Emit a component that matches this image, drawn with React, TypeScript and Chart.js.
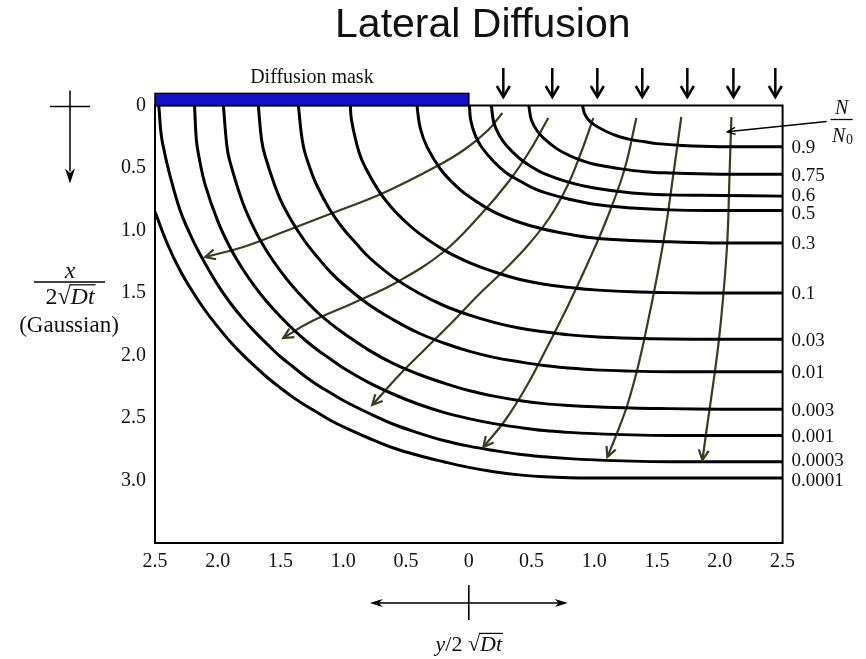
import React, { useEffect, useRef } from 'react';
import { Chart, registerables } from 'chart.js';

Chart.register(...registerables);

type P = [number, number];

// axis ticks (lateral y/2√Dt on x, depth x/2√Dt on y)
const xTicks = [-2.5, -2, -1.5, -1, -0.5, 0, 0.5, 1, 1.5, 2, 2.5];
const yTicks = [0, 0.5, 1, 1.5, 2, 2.5, 3];

// iso-concentration labels N/N0
const concLabels = ['0.9', '0.75', '0.6', '0.5', '0.3', '0.1', '0.03', '0.01', '0.003', '0.001', '0.0003', '0.0001'];

// contour lines: [lateral, depth]
const c0_9: P[] = [[0.906, 0], [0.92, 0.06], [0.95, 0.11], [1.0, 0.155], [1.1, 0.21], [1.2, 0.25], [1.3, 0.275], [1.4, 0.29], [1.5, 0.305], [1.7, 0.32], [2.0, 0.33], [2.5, 0.33]];
const c0_75: P[] = [[0.478, 0], [0.5, 0.12], [0.55, 0.21], [0.6, 0.265], [0.7, 0.345], [0.8, 0.4], [0.9, 0.44], [1.0, 0.47], [1.2, 0.505], [1.4, 0.53], [1.6, 0.54], [2.0, 0.55], [2.5, 0.55]];
const c0_6: P[] = [[0.18, 0], [0.2, 0.14], [0.25, 0.25], [0.3, 0.32], [0.4, 0.42], [0.5, 0.49], [0.6, 0.545], [0.8, 0.615], [1.0, 0.66], [1.3, 0.7], [1.6, 0.715], [2.0, 0.72], [2.5, 0.725]];
const c0_5: P[] = [[0.005, 0], [0.015, 0.116], [0.05, 0.235], [0.1, 0.33], [0.2, 0.45], [0.3, 0.54], [0.4, 0.6], [0.5, 0.655], [0.6, 0.695], [0.8, 0.75], [1.0, 0.79], [1.3, 0.82], [1.6, 0.835], [2.0, 0.84], [2.5, 0.84]];
const c0_3: P[] = [[-0.413, 0], [-0.387, 0.18], [-0.331, 0.335], [-0.225, 0.51], [-0.121, 0.625], [-0.017, 0.715], [0.187, 0.845], [0.39, 0.93], [0.6, 0.99], [0.8, 1.03], [1.0, 1.06], [1.3, 1.08], [1.6, 1.09], [2.0, 1.1], [2.5, 1.1]];
const c0_1: P[] = [[-0.944, 0], [-0.934, 0.12], [-0.876, 0.37], [-0.822, 0.5], [-0.716, 0.685], [-0.612, 0.82], [-0.509, 0.925], [-0.406, 1.015], [-0.2, 1.155], [0, 1.255], [0.2, 1.33], [0.4, 1.39], [0.6, 1.43], [0.8, 1.455], [1.0, 1.475], [1.3, 1.49], [1.6, 1.497], [2.0, 1.5], [2.5, 1.5]];
const c0_03: P[] = [[-1.358, 0], [-1.321, 0.31], [-1.266, 0.5], [-1.213, 0.634], [-1.109, 0.83], [-1.005, 0.98], [-0.9, 1.1], [-0.8, 1.21], [-0.6, 1.375], [-0.4, 1.5], [-0.2, 1.6], [0, 1.675], [0.2, 1.735], [0.4, 1.78], [0.6, 1.81], [0.8, 1.835], [1.0, 1.85], [1.3, 1.862], [1.6, 1.868], [2.0, 1.87], [2.5, 1.87]];
const c0_01: P[] = [[-1.677, 0], [-1.65, 0.28], [-1.621, 0.41], [-1.513, 0.725], [-1.407, 0.93], [-1.303, 1.09], [-1.2, 1.22], [-1.1, 1.335], [-1.0, 1.43], [-0.8, 1.59], [-0.6, 1.715], [-0.4, 1.82], [-0.2, 1.9], [0, 1.965], [0.2, 2.015], [0.4, 2.05], [0.6, 2.08], [0.8, 2.1], [1.0, 2.115], [1.3, 2.125], [1.6, 2.13], [2.0, 2.13], [2.5, 2.13]];
const c0_003: P[] = [[-1.955, 0], [-1.929, 0.31], [-1.908, 0.43], [-1.8, 0.78], [-1.7, 1.005], [-1.6, 1.18], [-1.5, 1.325], [-1.4, 1.45], [-1.3, 1.56], [-1.2, 1.66], [-1.1, 1.745], [-1.0, 1.82], [-0.8, 1.955], [-0.6, 2.065], [-0.4, 2.15], [-0.2, 2.22], [0, 2.28], [0.2, 2.325], [0.4, 2.36], [0.6, 2.385], [0.8, 2.4], [1.0, 2.41], [1.3, 2.42], [1.6, 2.425], [2.0, 2.43], [2.5, 2.43]];
const c0_001: P[] = [[-2.185, 0], [-2.17, 0.28], [-2.15, 0.41], [-2.1, 0.635], [-2.0, 0.925], [-1.9, 1.14], [-1.8, 1.31], [-1.7, 1.455], [-1.6, 1.58], [-1.5, 1.69], [-1.4, 1.79], [-1.3, 1.88], [-1.2, 1.96], [-1.1, 2.03], [-1.0, 2.1], [-0.8, 2.215], [-0.6, 2.31], [-0.4, 2.39], [-0.2, 2.455], [0, 2.505], [0.2, 2.545], [0.4, 2.575], [0.6, 2.6], [0.8, 2.615], [1.0, 2.625], [1.3, 2.635], [1.6, 2.64], [2.0, 2.64], [2.5, 2.64]];
const c0_0003: P[] = [[-2.47, 0], [-2.44, 0.3], [-2.313, 0.8], [-2.204, 1.065], [-2.1, 1.265], [-2.0, 1.435], [-1.9, 1.58], [-1.8, 1.705], [-1.7, 1.815], [-1.6, 1.915], [-1.5, 2.01], [-1.4, 2.09], [-1.3, 2.17], [-1.2, 2.24], [-1.1, 2.3], [-1.0, 2.36], [-0.8, 2.46], [-0.6, 2.55], [-0.4, 2.62], [-0.2, 2.68], [0, 2.725], [0.2, 2.76], [0.4, 2.79], [0.6, 2.81], [0.8, 2.825], [1.0, 2.835], [1.3, 2.845], [1.6, 2.85], [2.0, 2.85], [2.5, 2.85]];
const c0_0001: P[] = [[-2.5, 0.85], [-2.4, 1.11], [-2.3, 1.32], [-2.2, 1.49], [-2.1, 1.64], [-2.0, 1.77], [-1.9, 1.89], [-1.8, 1.995], [-1.7, 2.09], [-1.6, 2.18], [-1.5, 2.26], [-1.4, 2.335], [-1.3, 2.4], [-1.2, 2.46], [-1.1, 2.52], [-1.0, 2.57], [-0.8, 2.66], [-0.6, 2.74], [-0.4, 2.8], [-0.2, 2.85], [0, 2.895], [0.2, 2.93], [0.4, 2.955], [0.6, 2.97], [0.8, 2.978], [1.0, 2.98], [1.6, 2.98], [2.5, 2.98]];

const contours = [c0_9, c0_75, c0_6, c0_5, c0_3, c0_1, c0_03, c0_01, c0_003, c0_001, c0_0003, c0_0001];

// flow (gradient) arrows
const flow1: P[] = [[0.267, 0.06], [0.155, 0.196], [-0.028, 0.348], [-0.251, 0.484], [-0.681, 0.7], [-1.127, 0.876], [-1.478, 1.012], [-1.797, 1.132], [-2.1, 1.212]];
const flow2: P[] = [[0.633, 0.1], [0.49, 0.356], [0.315, 0.612], [0.092, 0.876], [-0.203, 1.172], [-0.57, 1.412], [-0.92, 1.58], [-1.263, 1.732], [-1.478, 1.86]];
const flow3: P[] = [[0.992, 0.1], [0.896, 0.372], [0.785, 0.644], [0.641, 0.9], [0.466, 1.124], [0.275, 1.324], [0.076, 1.516], [-0.131, 1.732], [-0.339, 1.94], [-0.554, 2.156], [-0.769, 2.396]];
const flow4: P[] = [[1.335, 0.1], [1.239, 0.516], [1.096, 0.916], [0.952, 1.252], [0.793, 1.596], [0.633, 1.916], [0.466, 2.236], [0.291, 2.516], [0.116, 2.732]];
const flow5: P[] = [[1.693, 0.092], [1.629, 0.556], [1.566, 0.996], [1.502, 1.356], [1.43, 1.716], [1.351, 2.076], [1.263, 2.396], [1.175, 2.636], [1.104, 2.812]];
const flow6: P[] = [[2.092, 0.092], [2.076, 0.596], [2.06, 1.076], [2.028, 1.516], [1.988, 1.916], [1.94, 2.276], [1.9, 2.556], [1.861, 2.836]];
const flows = [flow1, flow2, flow3, flow4, flow5, flow6];

// incoming dopant arrows above the window
const topArrowX = [0.275, 0.665, 1.024, 1.382, 1.741, 2.108, 2.442];
const topArrowDepth: P = [-0.3, -0.068];

// diffusion mask extent
const maskLateral: P = [-2.5, 0];
const maskDepth: P = [-0.097, 0];

// N/N0 pointer tip
const pointerTip: P = [2.06, 0.21];

// small vertical nudges (px) for crowded right-hand labels
const labelNudge = [0, 0, -2, 2, 0, 0, 0, 0, 0, 0, -2, 2];

const SERIF = '"Liberation Serif", "Times New Roman", serif';
const SANS = '"Liberation Sans", Arial, sans-serif';
const FLOW_COLOR = '#3c3b1e';

function openHead(ctx: CanvasRenderingContext2D, tx: number, ty: number, ang: number, len: number, half: number) {
  const bx = tx - len * Math.cos(ang);
  const by = ty - len * Math.sin(ang);
  const nx = -Math.sin(ang) * half;
  const ny = Math.cos(ang) * half;
  ctx.beginPath();
  ctx.moveTo(bx + nx, by + ny);
  ctx.lineTo(tx, ty);
  ctx.lineTo(bx - nx, by - ny);
  ctx.stroke();
}

function filledHead(ctx: CanvasRenderingContext2D, tx: number, ty: number, ang: number, len: number, half: number) {
  const bx = tx - len * Math.cos(ang);
  const by = ty - len * Math.sin(ang);
  const nx = -Math.sin(ang) * half;
  const ny = Math.cos(ang) * half;
  ctx.beginPath();
  ctx.moveTo(bx + nx, by + ny);
  ctx.lineTo(tx, ty);
  ctx.lineTo(bx - nx, by - ny);
  ctx.lineTo(tx - len * 0.7 * Math.cos(ang), ty - len * 0.7 * Math.sin(ang));
  ctx.closePath();
  ctx.fill();
}

type Part = { t: string; it?: boolean; over?: boolean };

function drawParts(ctx: CanvasRenderingContext2D, parts: Part[], cx: number, baseline: number, size: number) {
  const fontFor = (p: Part) => `${p.it ? 'italic ' : ''}${size}px ${SERIF}`;
  let total = 0;
  const widths = parts.map((p) => {
    ctx.font = fontFor(p);
    const w = ctx.measureText(p.t).width;
    total += w;
    return w;
  });
  let x = cx - total / 2;
  ctx.textAlign = 'left';
  ctx.textBaseline = 'alphabetic';
  parts.forEach((p, i) => {
    ctx.font = fontFor(p);
    ctx.fillText(p.t, x, baseline);
    if (p.over) {
      ctx.beginPath();
      ctx.lineWidth = 1.2;
      const oy = baseline - size * 0.8;
      ctx.moveTo(x - 1, oy);
      ctx.lineTo(x + widths[i] + 1, oy);
      ctx.stroke();
    }
    x += widths[i];
  });
}

const decorPlugin = {
  id: 'decor',
  afterDatasetsDraw(chart: any) {
    const ctx: CanvasRenderingContext2D = chart.ctx;
    const { left, right, top, bottom } = chart.chartArea;
    const xs = chart.scales.x;
    const ys = chart.scales.y;
    ctx.save();

    // frame
    ctx.strokeStyle = '#000';
    ctx.lineWidth = 2;
    ctx.strokeRect(left, top, right - left, bottom - top);

    // mask
    const mx0 = xs.getPixelForValue(maskLateral[0]);
    const mx1 = xs.getPixelForValue(maskLateral[1]);
    const my0 = ys.getPixelForValue(maskDepth[0]);
    const my1 = ys.getPixelForValue(maskDepth[1]);
    ctx.fillStyle = '#1212c8';
    ctx.fillRect(mx0, my0, mx1 - mx0, my1 - my0);
    ctx.lineWidth = 1.5;
    ctx.strokeStyle = '#000';
    ctx.strokeRect(mx0, my0, mx1 - mx0, my1 - my0);
    ctx.fillStyle = '#111';
    ctx.font = `20px ${SERIF}`;
    ctx.textAlign = 'center';
    ctx.textBaseline = 'alphabetic';
    ctx.fillText('Diffusion mask', (mx0 + mx1) / 2, my0 - 10);

    // top arrows
    ctx.strokeStyle = '#000';
    ctx.lineWidth = 2.5;
    topArrowX.forEach((v) => {
      const px = xs.getPixelForValue(v);
      const y0 = ys.getPixelForValue(topArrowDepth[0]);
      const y1 = ys.getPixelForValue(topArrowDepth[1]);
      ctx.beginPath();
      ctx.moveTo(px, y0);
      ctx.lineTo(px, y1);
      ctx.stroke();
      openHead(ctx, px, y1, Math.PI / 2, 11, 6.5);
    });

    // flow arrowheads
    ctx.strokeStyle = FLOW_COLOR;
    ctx.lineWidth = 2.2;
    flows.forEach((f) => {
      const a = f[f.length - 2];
      const b = f[f.length - 1];
      const ax = xs.getPixelForValue(a[0]);
      const ay = ys.getPixelForValue(a[1]);
      const bx = xs.getPixelForValue(b[0]);
      const by = ys.getPixelForValue(b[1]);
      openHead(ctx, bx, by, Math.atan2(by - ay, bx - ax), 10, 5);
    });

    // right labels
    ctx.fillStyle = '#111';
    ctx.font = `19px ${SERIF}`;
    ctx.textAlign = 'left';
    ctx.textBaseline = 'middle';
    contours.forEach((c, i) => {
      const last = c[c.length - 1];
      ctx.fillText(concLabels[i], right + 9, ys.getPixelForValue(last[1]) + 1.5 + labelNudge[i]);
    });

    // N/N0
    const nx = right + 59;
    ctx.font = `italic 20px ${SERIF}`;
    ctx.textAlign = 'center';
    ctx.textBaseline = 'alphabetic';
    ctx.fillText('N', nx, top + 8);
    ctx.lineWidth = 1.3;
    ctx.strokeStyle = '#000';
    ctx.beginPath();
    ctx.moveTo(nx - 11, top + 14);
    ctx.lineTo(nx + 11, top + 14);
    ctx.stroke();
    ctx.fillText('N', nx - 3, top + 36);
    ctx.font = `14px ${SERIF}`;
    ctx.fillText('0', nx + 8, top + 38);
    // pointer
    const tx = xs.getPixelForValue(pointerTip[0]);
    const ty = ys.getPixelForValue(pointerTip[1]);
    const sx = right + 44;
    const sy = top + 16;
    ctx.lineWidth = 1.4;
    ctx.beginPath();
    ctx.moveTo(sx, sy);
    ctx.lineTo(tx, ty);
    ctx.stroke();
    openHead(ctx, tx, ty, Math.atan2(ty - sy, tx - sx), 8, 3.5);

    // left depth arrow symbol
    const lx = left - 85;
    ctx.lineWidth = 1.5;
    ctx.beginPath();
    ctx.moveTo(left - 105, top + 1);
    ctx.lineTo(left - 65, top + 1);
    ctx.moveTo(lx, top - 15);
    ctx.lineTo(lx, top + 66);
    ctx.stroke();
    ctx.fillStyle = '#000';
    filledHead(ctx, lx, top + 78, Math.PI / 2, 15, 5);

    // left axis title fraction
    ctx.fillStyle = '#111';
    ctx.font = `italic 24px ${SERIF}`;
    ctx.textAlign = 'center';
    ctx.fillText('x', lx, top + 172);
    ctx.lineWidth = 1.4;
    ctx.beginPath();
    ctx.moveTo(left - 121, top + 176.5);
    ctx.lineTo(left - 50, top + 176.5);
    ctx.stroke();
    drawParts(ctx, [{ t: '2' }, { t: '√' }, { t: 'Dt', it: true, over: true }], lx, top + 198.5, 24);
    ctx.font = `23px ${SERIF}`;
    ctx.textAlign = 'center';
    ctx.fillText('(Gaussian)', lx - 1, top + 226.5);

    // bottom lateral arrow and title
    const x0 = xs.getPixelForValue(0);
    const ay = bottom + 60;
    ctx.strokeStyle = '#000';
    ctx.lineWidth = 1.6;
    ctx.beginPath();
    ctx.moveTo(x0 - 92, ay);
    ctx.lineTo(x0 + 92, ay);
    ctx.moveTo(x0, ay - 18);
    ctx.lineTo(x0, ay + 17);
    ctx.stroke();
    ctx.fillStyle = '#000';
    filledHead(ctx, x0 - 99, ay, Math.PI, 13, 4);
    filledHead(ctx, x0 + 99, ay, 0, 13, 4);
    ctx.fillStyle = '#111';
    drawParts(ctx, [{ t: 'y', it: true }, { t: '/2 ' }, { t: '√' }, { t: 'Dt', it: true, over: true }], x0, bottom + 108, 22);

    // title
    ctx.fillStyle = '#111';
    ctx.font = `41px ${SANS}`;
    ctx.textAlign = 'center';
    ctx.textBaseline = 'alphabetic';
    ctx.fillText('Lateral Diffusion', (left + right) / 2 + 14, 37);

    ctx.restore();
  },
};

export default function App() {
  const ref = useRef<HTMLCanvasElement | null>(null);

  useEffect(() => {
    if (!ref.current) return;
    const contourSets = contours.map((c, i) => ({
      label: concLabels[i],
      data: c.map(([x, y]) => ({ x, y })),
      showLine: true,
      borderColor: '#000',
      borderWidth: 3,
      pointRadius: 0,
      fill: false,
      tension: 0.4,
    }));
    const flowSets = flows.map((f, i) => ({
      label: `flow${i + 1}`,
      data: f.map(([x, y]) => ({ x, y })),
      showLine: true,
      borderColor: FLOW_COLOR,
      borderWidth: 2.2,
      pointRadius: 0,
      fill: false,
      tension: 0.4,
    }));

    const chart = new Chart(ref.current, {
      type: 'scatter',
      data: { datasets: [...contourSets, ...flowSets] as any },
      options: {
        responsive: false,
        animation: false,
        devicePixelRatio: 1,
        layout: { padding: { left: 0, right: 83.4, top: 105.5, bottom: 0 } },
        plugins: { legend: { display: false }, tooltip: { enabled: false }, title: { display: false } },
        scales: {
          x: {
            type: 'linear',
            min: -2.5,
            max: 2.5,
            grid: { display: false, drawTicks: false },
            border: { display: false },
            afterBuildTicks: (scale: any) => {
              scale.ticks = xTicks.map((v) => ({ value: v }));
            },
            afterFit: (scale: any) => {
              scale.height = 116;
            },
            ticks: {
              padding: 7,
              color: '#111',
              font: { family: SERIF, size: 20 },
              maxRotation: 0,
              autoSkip: false,
              callback: (v: any) => (Number(v) === 0 ? '0' : Math.abs(Number(v)).toFixed(1)),
            },
          },
          y: {
            type: 'linear',
            min: 0,
            max: 3.5,
            reverse: true,
            grid: { display: false, drawTicks: false },
            border: { display: false },
            afterBuildTicks: (scale: any) => {
              scale.ticks = yTicks.map((v) => ({ value: v }));
            },
            afterFit: (scale: any) => {
              scale.width = 155;
            },
            ticks: {
              padding: 9,
              color: '#111',
              font: { family: SERIF, size: 20 },
              autoSkip: false,
              callback: (v: any) => (Number(v) === 0 ? '0' : Number(v).toFixed(1)),
            },
          },
        },
      },
      plugins: [decorPlugin],
    } as any);
    return () => chart.destroy();
  }, []);

  return (
    <div style={{ position: 'fixed', left: 0, top: 0, width: 866, height: 659, background: '#fff' }}>
      <canvas ref={ref} width={866} height={659} />
    </div>
  );
}
